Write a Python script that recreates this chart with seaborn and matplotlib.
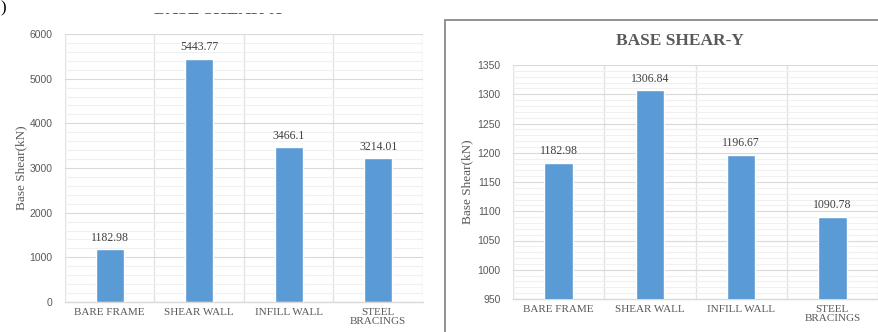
import numpy as np
import pandas as pd
import matplotlib
matplotlib.use("Agg")
import matplotlib.pyplot as plt
from matplotlib.patches import Rectangle
import seaborn as sns

categories = ["BARE FRAME", "SHEAR WALL", "INFILL WALL", "STEEL\nBRACINGS"]
shear_x = [1182.98, 5443.77, 3466.1, 3214.01]
shear_y = [1182.98, 1306.84, 1196.67, 1090.78]
label_x = ["1182.98", "5443.77", "3466.1", "3214.01"]
label_y = ["1182.98", "1306.84", "1196.67", "1090.78"]
title_x = "BASE SHEAR-X"
title_y = "BASE SHEAR-Y"
ylabel = "Base Shear(kN)"

sns.set_theme(style="white")
plt.rcParams["font.family"] = ["DejaVu Sans"]

BAR = "#5B9BD5"
TXT = "#595959"
SERIF = "Liberation Serif"
SANS = "Liberation Sans"

fig = plt.figure(figsize=(8.79, 3.32), dpi=100)
W, H = 879, 332

def px(x0, y0, x1, y1):
    return [x0 / W, 1 - y1 / H, (x1 - x0) / W, (y1 - y0) / H]

ax1 = fig.add_axes(px(65, 34, 423, 302))
ax2 = fig.add_axes(px(513, 65, 878, 299))

def style(ax, vals, labels, ylim, major, minor, ylab_x):
    df = pd.DataFrame({"cat": categories, "val": vals})
    sns.barplot(data=df, x="cat", y="val", color=BAR, width=0.31, ax=ax,
                saturation=1, zorder=3)
    ax.set_xlim(-0.5, 3.5)
    ax.set_ylim(*ylim)
    ax.set_yticks(np.arange(ylim[0], ylim[1] + 1, major))
    ax.set_yticks(np.arange(ylim[0], ylim[1] + 1, minor), minor=True)
    ax.set_xticks(np.arange(-0.5, 3.6, 0.5), minor=True)
    ax.grid(True, which="major", axis="y", color="#D9D9D9", lw=0.8, zorder=0)
    ax.grid(True, which="minor", axis="y", color="#F0F0F0", lw=0.8, zorder=0)
    ax.grid(True, which="minor", axis="x", color="#E3E3E3", lw=1.0, zorder=0)
    ax.set_axisbelow(True)
    ax.tick_params(which="both", length=0)
    ax.tick_params(axis="y", pad=9, labelsize=7.5, labelcolor=TXT)
    ax.tick_params(axis="x", pad=4, labelsize=8, labelcolor=TXT)
    for t in ax.get_yticklabels():
        t.set_fontfamily(SANS)
    for t in ax.get_xticklabels():
        t.set_fontfamily(SERIF)
        t.set_linespacing(1.0)
    for s in ["top", "right", "left"]:
        ax.spines[s].set_visible(False)
    ax.spines["bottom"].set_color("#D9D9D9")
    ax.spines["bottom"].set_linewidth(1.0)
    ax.set_xlabel("")
    ax.set_ylabel(ylabel, fontfamily=SERIF, fontsize=9.5, color=TXT)
    x0 = ax.get_position().x0
    ax.yaxis.set_label_coords((ylab_x / W - x0) / ax.get_position().width, 0.5)
    ax.bar_label(ax.containers[0], labels=labels, padding=4, fontsize=8.5,
                 fontfamily=SERIF, color="#404040")

style(ax1, shear_x, label_x, (0, 6000), 1000, 200, 27)
style(ax2, shear_y, label_y, (950, 1350), 50, 10, 473)

# right panel border
fig.patches.append(Rectangle((445 / W, -0.2), 1.0, 1.2 - 20 / H,
                             transform=fig.transFigure, fill=False,
                             edgecolor="#7F7F7F", lw=1.2, zorder=0))
fig.text(680 / W, 1 - 41 / H, title_y, ha="center", va="center",
         fontfamily=SERIF, fontweight="bold", fontsize=12.5, color=TXT)

# left title, cropped at the top of the image: only its bottom edge shows
fig.text(218 / W, 1 - 14 / H, title_x, ha="center", va="baseline",
         fontfamily=SERIF, fontweight="bold", fontsize=12.5, color=TXT,
         zorder=3)
fig.add_artist(Rectangle((120 / W, 1 - 12.5 / H), 200 / W, 0.2,
                         transform=fig.transFigure, facecolor="white",
                         edgecolor="none", zorder=10))
fig.text(0 / W, 1 - 12 / H, ")", ha="left", va="baseline",
         fontfamily=SERIF, fontsize=12, color="#000000")

fig.savefig("out.png", dpi=100)
